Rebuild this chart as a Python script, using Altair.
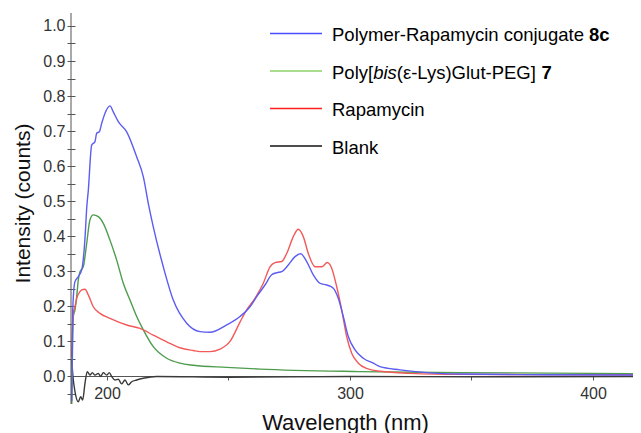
import altair as alt
import pandas as pd

# ---------------- data ----------------
series_names = ["Polymer-Rapamycin conjugate 8c", "Poly[bis(ε-Lys)Glut-PEG] 7", "Rapamycin", "Blank"]

blue_wl = [185.5, 185.9, 186.8, 188.2, 189.6, 191.0, 191.65, 192.3, 193.7, 195.06, 195.76, 196.83,
           197.82, 199.18, 201.23, 202.59, 204.65, 208.1, 212.2, 214.94, 216.99, 219.05, 223.17,
           227.28, 232.8, 238.27, 242.39, 249.26, 254.73, 258.85, 261.6, 265.02, 267.78, 269.84,
           271.89, 274.61, 277.37, 279.71, 282.18, 284.9, 287.65, 290.41, 293.13, 295.18, 297.24,
           299.3, 302.06, 305.47, 309.59, 312.35, 320.6, 331.6, 345.3, 380.0, 419.8]
blue_val = [-0.07, 0.19, 0.27, 0.285, 0.304, 0.40, 0.48, 0.53, 0.66, 0.67, 0.694, 0.698,
            0.722, 0.751, 0.772, 0.755, 0.727, 0.698, 0.627, 0.57, 0.494, 0.427, 0.313,
            0.218, 0.152, 0.128, 0.126, 0.147, 0.171, 0.199, 0.228, 0.261, 0.29, 0.296,
            0.299, 0.318, 0.342, 0.35, 0.328, 0.29, 0.266, 0.261, 0.252, 0.223, 0.171,
            0.114, 0.076, 0.052, 0.038, 0.028, 0.019, 0.011, 0.007, 0.005, 0.004]

green_wl = [185.5, 186.13, 186.83, 187.53, 188.19, 188.89, 190.25, 191.65, 193.0, 194.36, 196.42,
            198.48, 201.23, 203.99, 206.71, 209.47, 212.22, 214.94, 219.05, 224.57, 230.04,
            235.51, 249.26, 262.96, 304.1, 345.3, 419.8]
green_val = [-0.09, 0.171, 0.19, 0.228, 0.275, 0.299, 0.313, 0.38, 0.447, 0.461, 0.456,
             0.437, 0.389, 0.332, 0.266, 0.218, 0.171, 0.133, 0.085, 0.052, 0.038,
             0.032, 0.026, 0.021, 0.014, 0.011, 0.008]

red_wl = [185.47, 186.13, 186.83, 187.53, 188.89, 189.59, 190.95, 192.3, 194.36, 197.12, 201.23,
          208.11, 213.58, 219.05, 224.57, 230.04, 235.51, 238.27, 242.39, 246.5, 250.62, 254.73,
          257.49, 260.91, 264.32, 267.08, 269.14, 271.89, 273.95, 276.67, 278.72, 280.78,
          282.84, 285.6, 288.35, 290.66, 292.47, 294.53, 296.58, 298.64, 300.7, 303.42,
          306.87, 312.35, 324.7, 345.3, 419.8]
red_val = [0.056, 0.18, 0.199, 0.223, 0.242, 0.247, 0.249, 0.233, 0.199, 0.18, 0.166,
           0.147, 0.137, 0.118, 0.099, 0.082, 0.074, 0.071, 0.071, 0.078, 0.10, 0.155,
           0.19, 0.223, 0.266, 0.313, 0.325, 0.328, 0.351, 0.399, 0.42, 0.399,
           0.351, 0.313, 0.313, 0.325, 0.309, 0.256, 0.19, 0.114, 0.066, 0.038,
           0.023, 0.015, 0.009, 0.006, 0.005]

black_wl = [185.47, 186.0, 186.83, 188.19, 189.18, 189.99, 190.95, 191.89, 193.0, 193.95, 195.06,
            196.42, 197.41, 198.48, 199.88, 200.95, 201.93, 203.29, 204.65, 206.05, 207.41,
            208.77, 210.16, 212.22, 214.94, 220.45, 250.0, 300.0, 350.0, 419.8]
black_val = [0.05, 0.0, -0.043, -0.072, -0.058, -0.067, -0.019, 0.014, 0.004, 0.011, 0.004,
             0.009, 0.0, 0.011, 0.004, 0.011, 0.0, -0.01, -0.008, -0.021, -0.01,
             -0.024, -0.015, -0.01, -0.005, 0.0, -0.002, 0.0, -0.001, 0.0]

x_ticks = [200, 250, 300, 350, 400]
y_ticks = [round(-0.05 + 0.05 * i, 2) for i in range(22)]

curve_colors = ["#5c5cf2", "#4e9c4e", "#f25a5a", "#3a3a3a"]
legend_colors = ["#4b4bff", "#8ed06a", "#ff1e1e", "#111111"]

# ---------------- build table ----------------
rows = []
for name, wl, val in [(series_names[3], black_wl, black_val),
                      (series_names[1], green_wl, green_val),
                      (series_names[2], red_wl, red_val),
                      (series_names[0], blue_wl, blue_val)]:
    for w, v in zip(wl, val):
        rows.append({"series": name, "wl": w, "val": v})
df = pd.DataFrame(rows)

W, H = 562, 391
FONT = "Liberation Sans"

x_axis = alt.Axis(values=x_ticks,
                  labelExpr="datum.value % 100 == 0 ? format(datum.value, 'd') : ''",
                  offset=-28, tickSize=4, labelPadding=5, labelFontSize=16,
                  labelColor="#333333", domainColor="#555555", tickColor="#555555",
                  grid=False, labelFlush=False,
                  title="Wavelength (nm)", titleFontSize=22, titleFontWeight="normal",
                  titleColor="#111111", titleX=274, titleY=53, titleBaseline="alphabetic")
y_axis = alt.Axis(values=y_ticks,
                  labelExpr="abs(round(datum.value*20)) % 2 == 1 ? '' : format(datum.value, '.1f')",
                  offset=-4, domain=False, tickSize=8, labelPadding=2, labelFontSize=16,
                  labelColor="#333333", tickColor="#555555", grid=False,
                  title="Intensity (counts)", titleFontSize=21, titleFontWeight="normal",
                  titleColor="#111111", titleAngle=270, titleX=-42, titleY=190,
                  titleBaseline="bottom", titleAlign="center")

lines = alt.Chart(df).mark_line(strokeWidth=1.4, clip=True, interpolate="monotone").encode(
    x=alt.X("wl:Q", scale=alt.Scale(domain=[185.19, 416.46], nice=False, zero=False), axis=x_axis),
    y=alt.Y("val:Q", scale=alt.Scale(domain=[-0.0785, 1.037], nice=False, zero=False), axis=y_axis),
    color=alt.Color("series:N", scale=alt.Scale(domain=series_names, range=curve_colors), legend=None),
    detail="series:N",
)

dummy = pd.DataFrame({"a": [0]})
y_domain_line = alt.Chart(dummy).mark_rule(color="#555555", strokeWidth=1).encode(
    x=alt.value(0), y=alt.value(0), y2=alt.value(H))

# ---------------- custom legend (rich text) ----------------
widths = {" ": 278, "P": 667, "o": 556, "l": 222, "y": 500, "m": 833, "e": 556, "r": 333, "-": 333,
          "R": 722, "a": 556, "p": 556, "c": 500, "i": 222, "n": 556, "j": 222, "u": 556, "g": 556,
          "t": 278, "[": 278, "]": 278, "b": 556, "s": 500, "(": 333, ")": 333, "ε": 440, "L": 556,
          "G": 778, "E": 667, "B": 667, "k": 500, "8": 556, "7": 556}
bold_widths = {"8": 556, "c": 556, "7": 556}
LFS = 18.5


def text_width(s, weight):
    tbl = bold_widths if weight == "bold" else widths
    return sum(tbl.get(ch, widths.get(ch, 556)) for ch in s) * LFS / 1000.0


legend_segments = [
    [("Polymer-Rapamycin conjugate ", "normal", "normal"), ("8c", "bold", "normal")],
    [("Poly[", "normal", "normal"), ("bis", "normal", "italic"), ("(ε-Lys)Glut-PEG] ", "normal", "normal"), ("7", "bold", "normal")],
    [("Rapamycin", "normal", "normal")],
    [("Blank", "normal", "normal")],
]
row_y = [20.5, 58, 95.5, 133]
line_x0, line_x1, text_x0 = 199, 251, 261

legend_layers = []
for i, segs in enumerate(legend_segments):
    legend_layers.append(alt.Chart(dummy).mark_rule(color=legend_colors[i], strokeWidth=1.6).encode(
        x=alt.value(line_x0), x2=alt.value(line_x1), y=alt.value(row_y[i])))
    cx = text_x0
    for txt, weight, style in segs:
        legend_layers.append(alt.Chart(dummy).mark_text(
            text=txt, align="left", baseline="middle", fontSize=LFS, font=FONT,
            fontWeight=weight, fontStyle=style, color="#000000").encode(
            x=alt.value(cx), y=alt.value(row_y[i] + 1.5)))
        cx += text_width(txt, weight)

chart = alt.layer(lines, y_domain_line, *legend_layers).properties(
    width=W, height=H,
    autosize=alt.AutoSizeParams(type="none"),
    padding={"left": 63, "top": 5, "right": 0, "bottom": 29},
).configure(font=FONT).configure_view(stroke=None)

chart.save("out.html", embed_options={"renderer": "svg", "actions": False})
